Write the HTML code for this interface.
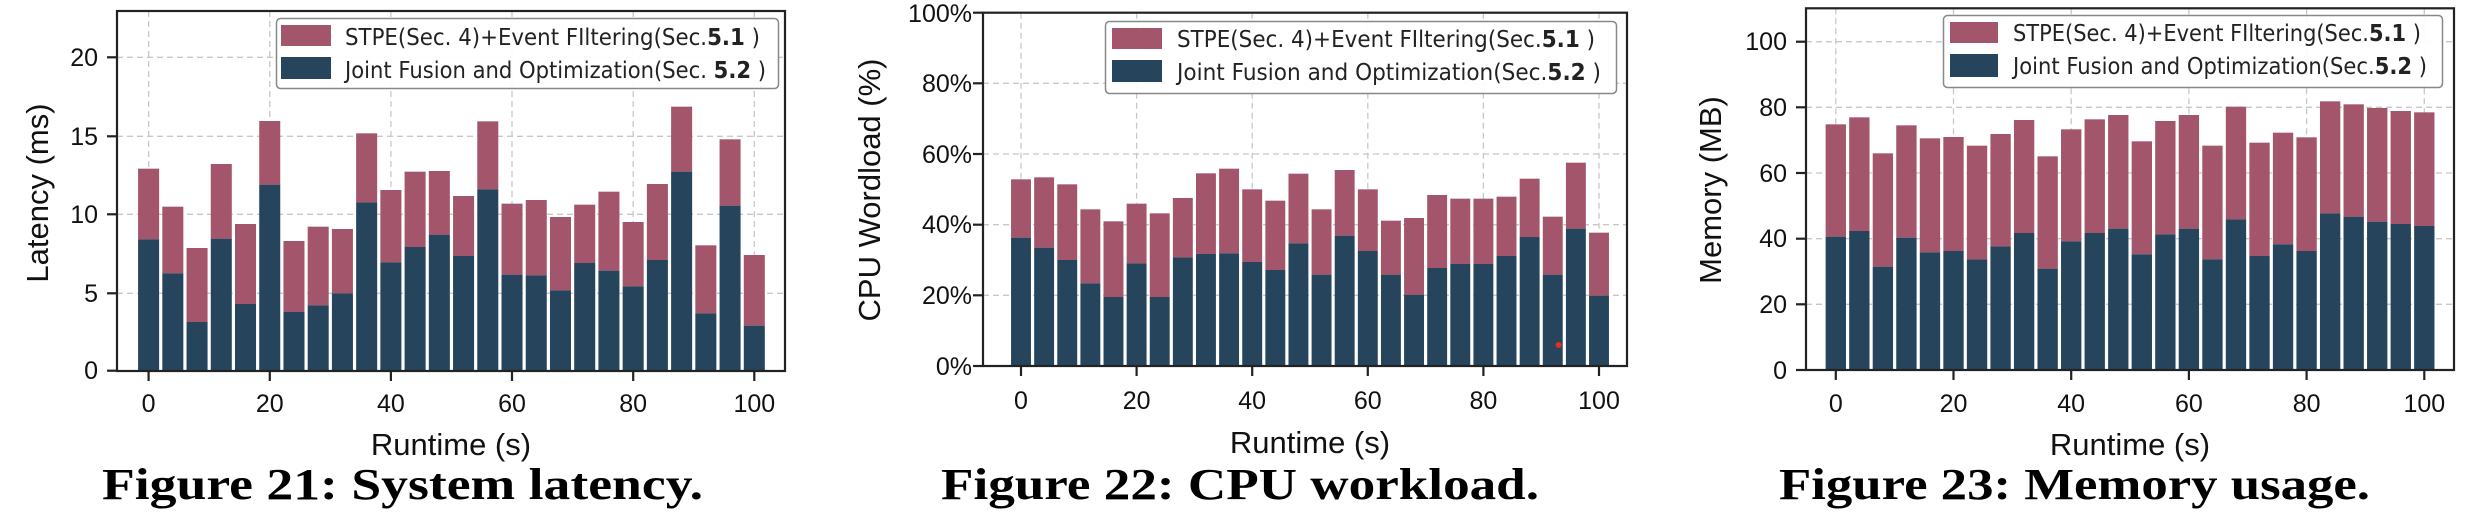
<!DOCTYPE html>
<html><head><meta charset="utf-8">
<style>
html,body{margin:0;padding:0;background:#fff;}
svg{display:block;}
.t{font-family:"Liberation Sans",sans-serif;fill:#111;}
.tk{font-size:25px;}
.al{font-size:31px;}
.lg{font-family:"DejaVu Sans","Liberation Sans",sans-serif;font-size:23px;fill:#222;}
.cap{font-family:"Liberation Serif",serif;font-weight:bold;font-size:44px;fill:#000;}
.grid{stroke:#c8c8c8;stroke-width:1.3;stroke-dasharray:6,4;fill:none;}
.ax{stroke:#222;stroke-width:2.2;fill:none;}
</style></head>
<body>
<svg id="s" width="2468" height="520" viewBox="0 0 2468 520" xmlns="http://www.w3.org/2000/svg">
<g id="g1"></g><g id="g2"></g><g id="g3"></g>

<!-- Chart 1 text -->
<g class="t tk" text-anchor="end">
<text x="98" y="379">0</text><text x="98" y="302">5</text><text x="98" y="223">10</text><text x="98" y="145">15</text><text x="98" y="66">20</text>
</g>
<g class="t tk" text-anchor="middle">
<text x="148.6" y="412">0</text><text x="269.8" y="412">20</text><text x="390.9" y="412">40</text><text x="512" y="412">60</text><text x="633.2" y="412">80</text><text x="754.3" y="412">100</text>
</g>
<text class="t al" x="451" y="455" text-anchor="middle">Runtime (s)</text>
<text class="t al" transform="translate(48,193) rotate(-90)" text-anchor="middle">Latency (ms)</text>
<text class="cap" x="102" y="499" textLength="601" lengthAdjust="spacingAndGlyphs">Figure 21: System latency.</text>

<!-- Chart 2 text -->
<g class="t tk" text-anchor="end">
<text x="972" y="375">0%</text><text x="972" y="304">20%</text><text x="972" y="233">40%</text><text x="972" y="163">60%</text><text x="972" y="92">80%</text><text x="972" y="22">100%</text>
</g>
<g class="t tk" text-anchor="middle">
<text x="1021" y="409">0</text><text x="1136.6" y="409">20</text><text x="1252.2" y="409">40</text><text x="1367.8" y="409">60</text><text x="1483.4" y="409">80</text><text x="1599" y="409">100</text>
</g>
<text class="t al" x="1310" y="453" text-anchor="middle">Runtime (s)</text>
<text class="t al" transform="translate(880,190) rotate(-90)" text-anchor="middle">CPU Wordload (%)</text>
<text class="cap" x="941" y="499" textLength="598" lengthAdjust="spacingAndGlyphs">Figure 22: CPU workload.</text>
<circle cx="1558.6" cy="345" r="3" fill="#e03020"/>

<!-- Chart 3 text -->
<g class="t tk" text-anchor="end">
<text x="1787" y="379">0</text><text x="1787" y="313">20</text><text x="1787" y="247">40</text><text x="1787" y="182">60</text><text x="1787" y="116">80</text><text x="1787" y="50">100</text>
</g>
<g class="t tk" text-anchor="middle">
<text x="1835.8" y="412">0</text><text x="1953.5" y="412">20</text><text x="2071.2" y="412">40</text><text x="2188.9" y="412">60</text><text x="2306.6" y="412">80</text><text x="2424.3" y="412">100</text>
</g>
<text class="t al" x="2130" y="455" text-anchor="middle">Runtime (s)</text>
<text class="t al" transform="translate(1721,190) rotate(-90)" text-anchor="middle">Memory (MB)</text>
<text class="cap" x="1779" y="499" textLength="591" lengthAdjust="spacingAndGlyphs">Figure 23: Memory usage.</text>

<!-- Legends -->
<g>
<rect x="276.5" y="18.5" width="502" height="70" rx="4" fill="#fff" fill-opacity="0.92" stroke="#888" stroke-width="1.5"/>
<rect x="281" y="25" width="50" height="21" fill="#a3566b"/>
<rect x="281" y="57" width="50" height="22" fill="#26455c"/>
<text class="lg" x="345" y="45" textLength="415" lengthAdjust="spacingAndGlyphs">STPE(Sec. 4)+Event FIltering(Sec.<tspan font-weight="bold">5.1</tspan> )</text>
<text class="lg" x="345" y="78" textLength="421" lengthAdjust="spacingAndGlyphs">Joint Fusion and Optimization(Sec. <tspan font-weight="bold">5.2</tspan> )</text>
</g>
<g>
<rect x="1105.5" y="21.5" width="511" height="72" rx="4" fill="#fff" fill-opacity="0.92" stroke="#888" stroke-width="1.5"/>
<rect x="1112" y="28" width="50" height="21" fill="#a3566b"/>
<rect x="1112" y="60" width="50" height="22" fill="#26455c"/>
<text class="lg" x="1177" y="47" textLength="418" lengthAdjust="spacingAndGlyphs">STPE(Sec. 4)+Event FIltering(Sec.<tspan font-weight="bold">5.1</tspan> )</text>
<text class="lg" x="1177" y="80" textLength="424" lengthAdjust="spacingAndGlyphs">Joint Fusion and Optimization(Sec.<tspan font-weight="bold">5.2</tspan> )</text>
</g>
<g>
<rect x="1943.5" y="15.5" width="499" height="72" rx="4" fill="#fff" fill-opacity="0.92" stroke="#888" stroke-width="1.5"/>
<rect x="1950" y="22" width="48" height="21" fill="#a3566b"/>
<rect x="1950" y="54" width="48" height="23" fill="#26455c"/>
<text class="lg" x="2013" y="41" textLength="408" lengthAdjust="spacingAndGlyphs">STPE(Sec. 4)+Event FIltering(Sec.<tspan font-weight="bold">5.1</tspan> )</text>
<text class="lg" x="2013" y="74" textLength="414" lengthAdjust="spacingAndGlyphs">Joint Fusion and Optimization(Sec.<tspan font-weight="bold">5.2</tspan> )</text>
</g>
</svg>
<script>
var NS="http://www.w3.org/2000/svg";
function el(g,n,a){var e=document.createElementNS(NS,n);for(var k in a)e.setAttribute(k,a[k]);g.insertBefore?g.appendChild(e):0;return e;}
function chart(id,c){
 var g=document.getElementById(id);
 // grid
 c.yt.forEach(function(y){el(g,"line",{x1:c.L,x2:c.R,y1:y,y2:y,"class":"grid"});});
 c.xt.forEach(function(x){el(g,"line",{x1:x,x2:x,y1:c.T,y2:c.B,"class":"grid"});});
 var sp=(c.xt[5]-c.xt[0])/25;
 for(var i=0;i<26;i++){
   var cx=c.xt[0]+i*sp, w=sp-3.2;
   var tt=c.tot[i]/3, bb=c.blu[i]/3;
   el(g,"rect",{x:cx-w/2,y:tt,width:w,height:bb-tt,fill:"#a3566b"});
   el(g,"rect",{x:cx-w/2,y:bb,width:w,height:c.B-bb,fill:"#26455c"});
 }
 el(g,"rect",{x:c.L,y:c.T,width:c.R-c.L,height:c.B-c.T,"class":"ax"});
 c.yt.forEach(function(y){el(g,"line",{x1:c.L-10,x2:c.L,y1:y,y2:y,"class":"ax"});});
 c.xt.forEach(function(x){el(g,"line",{x1:x,x2:x,y1:c.B,y2:c.B+10,"class":"ax"});});
}
chart("g1",{L:117,R:785,T:11,B:371,
 yt:[370.7,293.3,214.3,136.3,57.3],
 xt:[148.6,269.8,390.9,512,633.2,754.3],
 tot:[506,620,744,492,672,363,723,680,687,400,570,515,513,588,364,611,600,651,614,575,666,552,320,736,418,765],
 blu:[718,820,966,716,912,554,936,916,880,607,787,741,704,768,568,824,826,871,789,812,859,780,515,940,617,977]});
chart("g2",{L:983,R:1627,T:12.7,B:366,
 yt:[366,295.3,224.7,154,83.3,12.7],
 xt:[1021,1136.6,1252.2,1367.8,1483.4,1599],
 tot:[538,532,553,628,664,611,640,594,520,506,568,602,521,628,510,568,662,654,585,596,596,590,536,650,488,698],
 blu:[713,743,780,850,891,790,891,772,762,760,786,810,730,824,707,753,824,884,804,792,792,768,711,824,686,887]});
chart("g3",{L:1806,R:2454,T:8.3,B:370,
 yt:[370,304.3,238.7,173,107.3,41.7],
 xt:[1835.8,1953.5,2071.2,2188.9,2306.6,2424.3],
 tot:[373,352,460,376,415,411,437,402,360,469,388,358,345,424,363,345,437,320,428,398,412,304,313,324,333,337],
 blu:[710,693,800,713,757,753,778,739,699,806,724,699,686,763,703,686,778,658,768,733,753,640,650,665,672,678]});
</script>
</body></html>
